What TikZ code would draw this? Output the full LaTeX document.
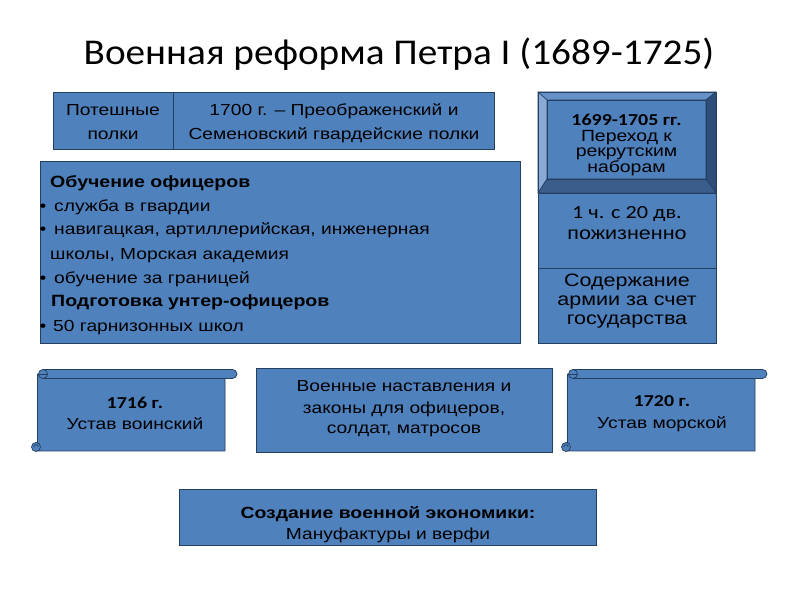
\documentclass[tikz,border=0pt]{standalone}
\usepackage{fontspec}
\setmainfont{Liberation Sans}[FakeStretch=1.2]
\newfontfamily\calfont{Carlito}[FakeStretch=1.2]
\newfontfamily\titlefont{Carlito}[FakeStretch=1.08]
\definecolor{boxblue}{HTML}{4F81BD}
\definecolor{boxline}{HTML}{243F60}
\definecolor{bevlight}{HTML}{8AAAD6}
\definecolor{bevtop}{HTML}{6690C8}
\definecolor{bevdark}{HTML}{2E4D78}
\definecolor{bevbottom}{HTML}{3A5D8C}
\tikzset{
  box/.style={fill=boxblue, draw=boxline, line width=0.6pt},
  face/.style={draw=boxline, line width=0.5pt, line join=round},
  scr/.style={fill=boxblue, draw=boxline, line width=0.6pt, line join=round},
  t/.style={inner sep=0pt, anchor=base, font=\fontsize{13.66}{16}\selectfont},
  tl/.style={t, anchor=base west},
  tr/.style={t, font=\fontsize{15.3}{17}\selectfont},
  tv/.style={t, font=\fontsize{13.8}{15}\selectfont},
  tb/.style={t, font=\calfont\bfseries\fontsize{14.2}{16}\selectfont},
  ttl/.style={inner sep=0pt, anchor=base, font=\titlefont\fontsize{31}{36}\selectfont},
}
\newcommand\scrollshape[2]{%
  \begin{scope}[shift={(#1,#2)}]
    \draw[scr] (6,77.5) -- (6,0.5) -- (193.5,0.5) -- (193.5,73) -- (11.5,73) -- cycle;
    \draw[scr] (11.5,82) -- (201,82) arc[start angle=90,end angle=-90,radius=4.5] -- (11.5,73) -- cycle;
    \draw[scr] (11.5,77.5) circle[radius=4.5];
    \draw[boxline, line width=0.6pt] (7,77.5) -- (16,77.5);
    \draw[scr] (4.5,4.5) circle[radius=4.5];
    \draw[boxline, line width=0.6pt] (2.25,4.5) arc[start angle=180,end angle=0,radius=2.25];
  \end{scope}}
\begin{document}
\begin{tikzpicture}[x=0.03cm,y=0.03cm]
\fill[white] (0,0) rectangle (800,600);
\useasboundingbox (0,0) rectangle (800,600);

% title
\node[ttl] (title) at (399,535) {Военная реформа Петра I (1689-1725)};

% top table
\draw[box] (53,451) rectangle (494,508);
\draw[boxline, line width=0.6pt] (173,451) -- (173,508);
\node[t] (pot1) at (113,484) {Потешные};
\node[t] (pot2) at (113,460.7) {полки};
\node[t] (pr1) at (334,484) {1700 г. – Преображенский и};
\node[t] (pr2) at (334,460.7) {Семеновский гвардейские полки};

% bevel box
\fill[boxblue] (538,407) rectangle (716,508);
\filldraw[face, fill=bevtop] (538,508) -- (716,508) -- (706,500) -- (547,500) -- cycle;
\filldraw[face, fill=bevlight] (538,508) -- (547,500) -- (547,421) -- (538,407) -- cycle;
\filldraw[face, fill=bevdark] (716,508) -- (716,407) -- (706,421) -- (706,500) -- cycle;
\filldraw[face, fill=bevbottom] (538,407) -- (716,407) -- (706,421) -- (547,421) -- cycle;
\draw[face] (547,421) rectangle (706,500);
\draw[face] (538,407) rectangle (716,508);
\node[tb] (rk1) at (626.5,474) {1699-1705 гг.};
\node[tv] (rk2) at (626.5,458.5) {Переход к};
\node[tv] (rk3) at (626.5,443) {рекрутским};
\node[tv] (rk4) at (626.5,427.5) {наборам};

% right boxes
\draw[box] (538,332) rectangle (716,407);
\node[t, font=\calfont\fontsize{15.8}{17}\selectfont] (ch1) at (627,381.7) {1 ч. с 20 дв.};
\node[tr] (ch2) at (627,360.7) {пожизненно};
\draw[box] (538,257) rectangle (716,332);
\node[tr] (sd1) at (627,313.3) {Содержание};
\node[tr] (sd2) at (627,294.7) {армии за счет};
\node[tr] (sd3) at (627,275.7) {государства};

% big left box
\draw[box] (40.5,257) rectangle (520,438.3);
\node[tl, font=\bfseries\fontsize{13.9}{16}\selectfont] (ob1) at (50,412.7) {Обучение офицеров};
\node[tl] (b1) at (39.5,388.3) {•};
\node[tl] (ob2) at (54,388.3) {служба в гвардии};
\node[tl] (b2) at (39.5,365) {•};
\node[tl] (ob3) at (54,365) {навигацкая, артиллерийская, инженерная};
\node[tl] (ob4) at (50,340) {школы, Морская академия};
\node[tl] (b3) at (39.5,316.7) {•};
\node[tl] (ob5) at (54,316.7) {обучение за границей};
\node[tl, font=\bfseries\fontsize{13.9}{16}\selectfont] (ob6) at (51,293.3) {Подготовка унтер-офицеров};
\node[tl] (b4) at (39.5,268.3) {•};
\node[tl] (ob7) at (53,268.3) {50 гарнизонных школ};

% scrolls
\scrollshape{31.5}{148.5}
\node[tb] (u1) at (135,191.7) {1716 г.};
\node[t] (u2) at (135,170) {Устав воинский};
\scrollshape{561.5}{148.5}
\node[tb] (m1) at (662,193.3) {1720 г.};
\node[t] (m2) at (662,171) {Устав морской};

% middle box
\draw[box] (256,148) rectangle (552,232);
\node[t] (vn1) at (404,208.3) {Военные наставления и};
\node[t] (vn2) at (404,186.7) {законы для офицеров,};
\node[t] (vn3) at (404,166.7) {солдат, матросов};

% bottom box
\draw[box] (179,55) rectangle (596,111);
\node[t, font=\bfseries\fontsize{13.8}{16}\selectfont] (ec1) at (388,81.7) {Создание военной экономики:};
\node[t] (ec2) at (388,60.7) {Мануфактуры и верфи};
\end{tikzpicture}
\end{document}
